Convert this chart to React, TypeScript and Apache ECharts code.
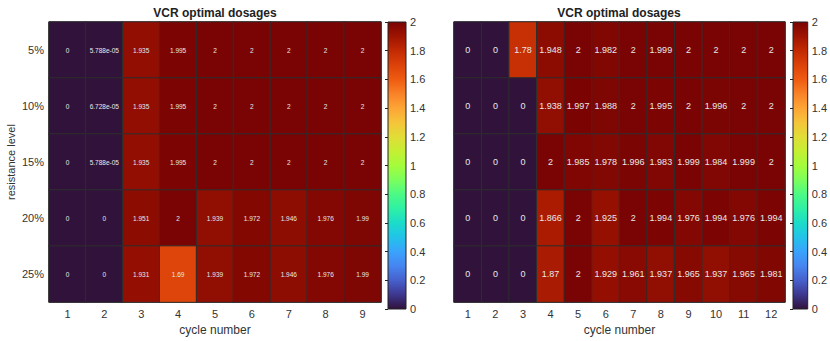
import React, { useEffect, useRef } from "react";
import * as echarts from "echarts";

const resistanceLevels = ["5%", "10%", "15%", "20%", "25%"];
const leftCycles = ["1", "2", "3", "4", "5", "6", "7", "8", "9"];
const rightCycles = ["1", "2", "3", "4", "5", "6", "7", "8", "9", "10", "11", "12"];

const leftValues: number[][] = [
  [0, 5.788e-5, 1.935, 1.995, 2, 2, 2, 2, 2],
  [0, 6.728e-5, 1.935, 1.995, 2, 2, 2, 2, 2],
  [0, 5.788e-5, 1.935, 1.995, 2, 2, 2, 2, 2],
  [0, 0, 1.951, 2, 1.939, 1.972, 1.946, 1.976, 1.99],
  [0, 0, 1.931, 1.69, 1.939, 1.972, 1.946, 1.976, 1.99],
];

const rightValues: number[][] = [
  [0, 0, 1.78, 1.948, 2, 1.982, 2, 1.999, 2, 2, 2, 2],
  [0, 0, 0, 1.938, 1.997, 1.988, 2, 1.995, 2, 1.996, 2, 2],
  [0, 0, 0, 2, 1.985, 1.978, 1.996, 1.983, 1.999, 1.984, 1.999, 2],
  [0, 0, 0, 1.866, 2, 1.925, 2, 1.994, 1.976, 1.994, 1.976, 1.994],
  [0, 0, 0, 1.87, 2, 1.929, 1.961, 1.937, 1.965, 1.937, 1.965, 1.981],
];

const colorbarTicks = { min: 0, max: 2, interval: 0.2 };

// turbo colormap samples
const turbo: [number, string][] = [
  [0.0, "#30123b"],
  [0.05, "#3e378f"],
  [0.1, "#4660cc"],
  [0.15, "#4685f0"],
  [0.2, "#3aa3fc"],
  [0.25, "#22c3e9"],
  [0.3, "#1bdcc9"],
  [0.35, "#2ff0a4"],
  [0.4, "#4cfa85"],
  [0.45, "#7cfe5c"],
  [0.5, "#a4fc3b"],
  [0.55, "#c5ef33"],
  [0.6, "#e1dd37"],
  [0.65, "#f5c43a"],
  [0.7, "#fda535"],
  [0.75, "#f98228"],
  [0.8, "#ef5b11"],
  [0.85, "#dc4209"],
  [0.9, "#c22a03"],
  [0.95, "#9f1401"],
  [1.0, "#7a0403"],
];

function fmt(v: number): string {
  if (v === 0) return "0";
  if (Math.abs(v) < 1e-4) {
    const s = v.toExponential(3);
    return s.replace(/e([+-])(\d)$/, "e$10$2");
  }
  return String(parseFloat(v.toPrecision(4)));
}

function toData(values: number[][]) {
  const out: [number, number, number][] = [];
  values.forEach((row, yi) => row.forEach((v, xi) => out.push([xi, yi, v])));
  return out;
}

const FONT = "Liberation Sans";

export default function App() {
  const ref = useRef<HTMLDivElement>(null);
  useEffect(() => {
    if (!ref.current) return;
    const chart = echarts.init(ref.current, undefined, { renderer: "svg" });
    const gradient = {
      type: "linear",
      x: 0,
      y: 1,
      x2: 0,
      y2: 0,
      colorStops: turbo.map(([o, c]) => ({ offset: o, color: c })),
    };
    const heatGrids = [
      { left: 49, top: 22, width: 332, height: 287 },
      { left: 454, top: 22, width: 331, height: 287 },
    ];
    const cbGrids = [
      { left: 388, top: 22, width: 18, height: 287 },
      { left: 793, top: 22, width: 19, height: 287 },
    ];
    const catX = (cats: string[], gi: number) => ({
      type: "category",
      gridIndex: gi,
      data: cats,
      name: "cycle number",
      nameLocation: "middle",
      nameGap: 21,
      nameTextStyle: { fontFamily: FONT, fontSize: 12, color: "#333" },
      axisLine: { show: false },
      axisTick: { show: false },
      splitLine: { show: false },
      axisLabel: { fontFamily: FONT, fontSize: 11, color: "#333", margin: 6 },
    });
    const catY = (gi: number, named: boolean) => ({
      type: "category",
      gridIndex: gi,
      data: resistanceLevels,
      inverse: true,
      name: named ? "resistance level" : "",
      nameLocation: "middle",
      nameGap: 33,
      nameTextStyle: { fontFamily: FONT, fontSize: 11, color: "#333" },
      axisLine: { show: false },
      axisTick: { show: false },
      splitLine: { show: false },
      axisLabel: { show: named, fontFamily: FONT, fontSize: 11, color: "#333", margin: 5 },
    });
    const titleStyle = { fontFamily: FONT, fontSize: 12, fontWeight: "bold", color: "#222" };
    const option: any = {
      animation: false,
      textStyle: { fontFamily: FONT },
      title: [
        { text: "VCR optimal dosages", left: 215, top: 7, padding: 0, textAlign: "center", textStyle: titleStyle },
        { text: "VCR optimal dosages", left: 619, top: 7, padding: 0, textAlign: "center", textStyle: titleStyle },
      ],
      grid: [
        ...heatGrids.map((g) => ({ ...g, show: true, borderColor: "#333", borderWidth: 1, backgroundColor: "transparent" })),
        ...cbGrids.map((g) => ({ ...g, show: true, borderColor: "#222", borderWidth: 1, backgroundColor: gradient })),
      ],
      xAxis: [
        catX(leftCycles, 0),
        catX(rightCycles, 1),
        { type: "value", gridIndex: 2, show: false },
        { type: "value", gridIndex: 3, show: false },
      ],
      yAxis: [
        catY(0, true),
        { ...catY(1, false), axisLabel: { show: false } },
        ...[2, 3].map((gi) => ({
          type: "value",
          gridIndex: gi,
          position: "right",
          min: colorbarTicks.min,
          max: colorbarTicks.max,
          interval: colorbarTicks.interval,
          axisLine: { show: false },
          axisTick: { show: true, inside: true, length: 3, lineStyle: { color: "#222" } },
          splitLine: { show: false },
          axisLabel: { fontFamily: FONT, fontSize: 11, color: "#333", margin: 4 },
        })),
      ],
      visualMap: {
        show: false,
        type: "continuous",
        min: 0,
        max: 2,
        seriesIndex: [0, 1],
        inRange: { color: turbo.map(([, c]) => c) },
      },
      series: [
        {
          type: "heatmap",
          xAxisIndex: 0,
          yAxisIndex: 0,
          data: toData(leftValues),
          itemStyle: { borderColor: "#2e2e2e", borderWidth: 1 },
          label: {
            show: true,
            fontFamily: FONT,
            fontSize: 6.5,
            color: "#e8e8e8",
            formatter: (p: any) => fmt(p.value[2]),
          },
        },
        {
          type: "heatmap",
          xAxisIndex: 1,
          yAxisIndex: 1,
          data: toData(rightValues),
          itemStyle: { borderColor: "#2e2e2e", borderWidth: 1 },
          label: {
            show: true,
            fontFamily: FONT,
            fontSize: 9,
            color: "#e8e8e8",
            formatter: (p: any) => fmt(p.value[2]),
          },
        },
      ],
    };
    chart.setOption(option);
    return () => chart.dispose();
  }, []);
  return (
    <div
      ref={ref}
      style={{ position: "absolute", left: 0, top: 0, width: 830, height: 341, background: "#fff" }}
    />
  );
}
